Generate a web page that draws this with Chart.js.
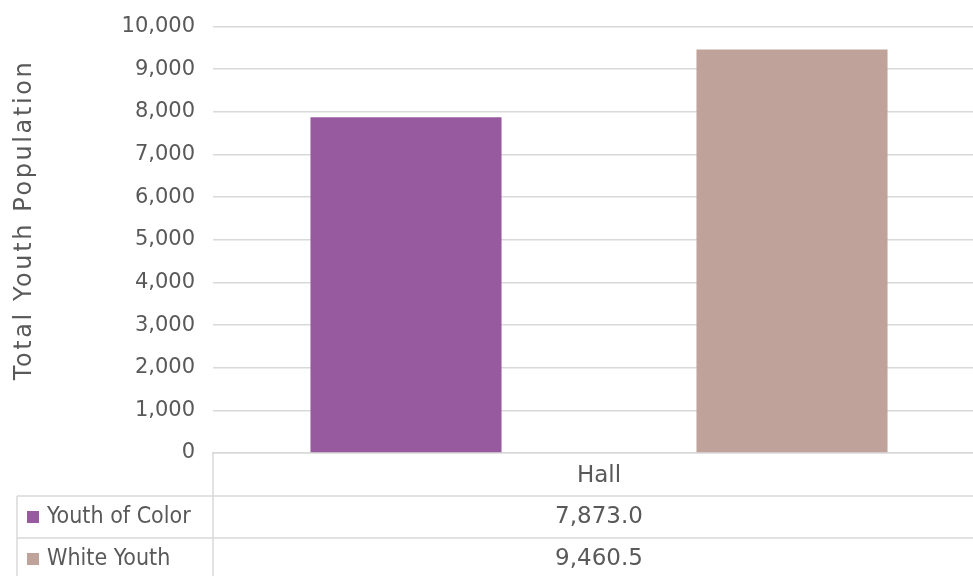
<!DOCTYPE html>
<html>
<head>
<meta charset="utf-8">
<script src="https://cdn.jsdelivr.net/npm/chart.js@4.4.1/dist/chart.umd.min.js"></script>
<style>
  html, body { margin: 0; padding: 0; background: #fff; overflow: hidden; }
  #wrap { width: 973px; height: 576px; overflow: hidden; }
  #youthChart { display: block; margin-top: -4px; }
</style>
</head>
<body>
<div id="wrap"><canvas id="youthChart" width="985" height="584"></canvas></div>
<script>
const categories = ['Hall'];
const seriesNames = ['Youth of Color', 'White Youth'];
const youthOfColor = [7873.0];
const whiteYouth = [9460.5];
const seriesColors = ['#985A9F', '#BFA39B'];
const yTitle = 'Total Youth Population';
const yMax = 10000;
const yStep = 1000;

const textColor = '#595959';
const lineColor = '#D9D9D9';
const fontFamily = '"DejaVu Sans", sans-serif';
const narrowFamily = '"DejaVu Sans Condensed", "DejaVu Sans", sans-serif';

// axis title + Excel-style data table under the x axis
const dataTablePlugin = {
    id: 'dataTable',
    afterDraw(chart) {
        const ctx = chart.ctx;
        const area = chart.chartArea;
        const xScale = chart.scales.x;
        const tableLeft = 17;
        const rowH = 42;
        const top = xScale.bottom;
        ctx.save();
        ctx.strokeStyle = lineColor;
        ctx.lineWidth = 1.5;
        ctx.beginPath();
        ctx.moveTo(area.left, area.bottom);
        ctx.lineTo(area.left, chart.height);
        ctx.moveTo(tableLeft, top);
        ctx.lineTo(tableLeft, chart.height);
        for (let i = 0; i < seriesNames.length; i++) {
            const y = top + i * rowH;
            ctx.moveTo(tableLeft, y);
            ctx.lineTo(area.right, y);
        }
        ctx.stroke();

        ctx.textBaseline = 'middle';
        const seriesData = [youthOfColor, whiteYouth];
        seriesNames.forEach((name, i) => {
            const cy = top + i * rowH + rowH / 2;
            ctx.fillStyle = seriesColors[i];
            ctx.fillRect(27, cy - 6, 12, 12);
            ctx.fillStyle = textColor;
            ctx.textAlign = 'left';
            ctx.font = '23px ' + narrowFamily;
            ctx.fillText(name, 47, cy);
            ctx.textAlign = 'center';
            ctx.font = '23px ' + fontFamily;
            categories.forEach((c, j) => {
                const v = seriesData[i][j];
                const txt = v.toLocaleString('en-US', { minimumFractionDigits: 1, maximumFractionDigits: 1 });
                ctx.fillText(txt, xScale.getPixelForValue(j), cy);
            });
        });

        // y axis title
        ctx.translate(25, 224);
        ctx.rotate(-Math.PI / 2);
        ctx.font = '24px ' + fontFamily;
        ctx.letterSpacing = '2.6px';
        ctx.textAlign = 'center';
        ctx.fillText(yTitle, 0, 0);
        ctx.restore();
    }
};

new Chart(document.getElementById('youthChart').getContext('2d'), {
    type: 'bar',
    data: {
        labels: categories,
        datasets: [{
            label: seriesNames[0],
            data: youthOfColor,
            backgroundColor: seriesColors[0]
        }, {
            label: seriesNames[1],
            data: whiteYouth,
            backgroundColor: seriesColors[1]
        }]
    },
    options: {
        responsive: false,
        animation: false,
        devicePixelRatio: 1,
        layout: { padding: { top: 10, right: 0, bottom: 84, left: 0 } },
        plugins: {
            legend: { display: false },
            tooltip: { enabled: false }
        },
        datasets: {
            bar: { categoryPercentage: 1.0, barPercentage: 0.495 }
        },
        scales: {
            x: {
                grid: { display: false, drawTicks: false },
                border: { display: true, color: lineColor, width: 1.5 },
                ticks: { color: textColor, font: { family: fontFamily, size: 23 }, padding: 9 },
                afterFit(scale) { scale.height = 43; }
            },
            y: {
                min: 0,
                max: yMax,
                ticks: {
                    stepSize: yStep,
                    color: textColor,
                    padding: 18,
                    font: { family: fontFamily, size: 21 },
                    callback: (v) => v.toLocaleString('en-US')
                },
                grid: { color: lineColor, lineWidth: 1.5, drawTicks: false },
                border: { display: false },
                afterFit(scale) { scale.width = 213; }
            }
        }
    },
    plugins: [dataTablePlugin]
});
</script>
</body>
</html>
